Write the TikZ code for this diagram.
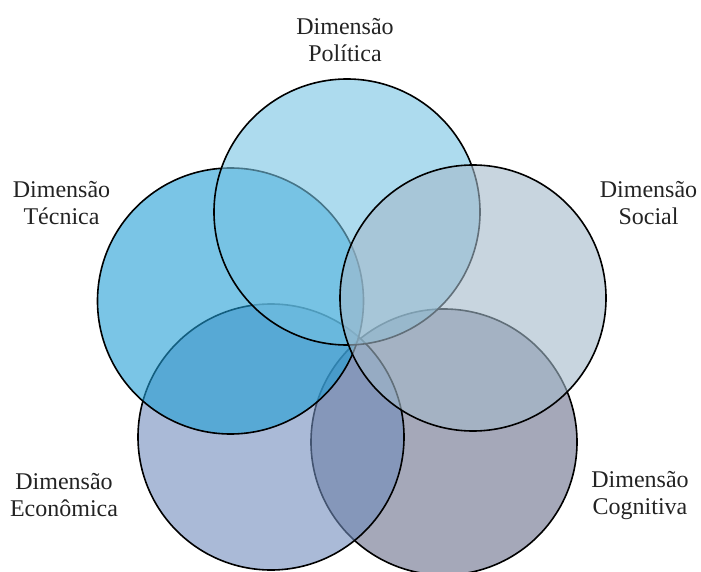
\documentclass[tikz,border=0pt]{standalone}
\usepackage{fontspec}
\setmainfont{Liberation Serif}

\definecolor{poli}{RGB}{118,195,227}
\definecolor{tecn}{RGB}{33,158,213}
\definecolor{soci}{RGB}{163,185,202}
\definecolor{econ}{RGB}{113,140,188}
\definecolor{cogn}{RGB}{105,110,138}
\definecolor{labelgray}{RGB}{35,35,35}

\tikzset{
  ring/.style={draw=black, line width=1.6pt, fill opacity=0.6},
  dimlabel/.style={align=center, text=labelgray, font=\fontsize{24}{27}\selectfont}
}

\begin{document}
\begin{tikzpicture}[x=1pt, y=-1pt]

\useasboundingbox (0, 0) rectangle (701, 572);

% circles, from bottom to top
\foreach \cx/\cy/\col in {
	444/442/cogn,
	271/437/econ,
	230.5/301/tecn,
	347/212/poli,
	473/298/soci}
\draw[ring, fill=\col] (\cx, \cy) circle (133pt);

\node[dimlabel] (poli) at (345, 40) {Dimensão\\Política};
\node[dimlabel] (tecn) at (61.5, 203) {Dimensão\\Técnica};
\node[dimlabel] (soci) at (648.5, 203) {Dimensão\\Social};
\node[dimlabel] (econ) at (64, 495) {Dimensão\\Econômica};
\node[dimlabel] (cogn) at (640, 495) {Dimensão\\Cognitiva};

\end{tikzpicture}
\end{document}
